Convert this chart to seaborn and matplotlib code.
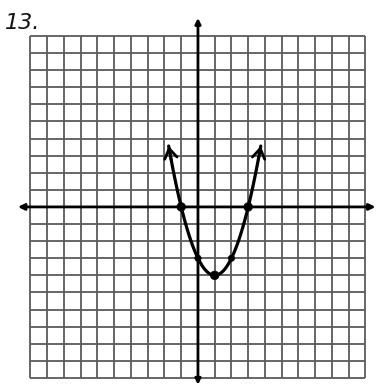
import numpy as np
import seaborn as sns
from matplotlib import pyplot as plt

# plotted points of the parabola (marked dots)
point_x = [-1, 0, 1, 2, 3]
point_y = [0, -3, -4, -3, 0]

# where the hand-drawn arrows end
arrow_x = [-1.75, 3.75]
arrow_y = [3.56, 3.56]

grid_ticks = list(range(-10, 11))
problem_label = "13."

sns.set_style("white")

fig = plt.figure(figsize=(3.77, 3.87), dpi=100)
ax = fig.add_axes([0, 0, 1, 1])
ax.set_xlim(-11.82, 10.69)
ax.set_ylim(-10.53, 12.1)
ax.axis("off")

# graph paper
ax.vlines(grid_ticks, -10, 10, color="#5a5a5a", lw=1.3, zorder=1)
ax.hlines(grid_ticks, -10, 10, color="#5a5a5a", lw=1.3, zorder=1)

# axes with arrow heads
ax.annotate("", xy=(-10.75, 0), xytext=(10.6, 0),
            arrowprops=dict(arrowstyle="<|-|>", color="black", lw=2.0,
                            mutation_scale=9, shrinkA=0, shrinkB=0), zorder=3)
ax.annotate("", xy=(0, 11.05), xytext=(0, -10.4),
            arrowprops=dict(arrowstyle="<|-|>", color="black", lw=2.0,
                            mutation_scale=8, shrinkA=0, shrinkB=0), zorder=3)

# parabola through the plotted points
curve_x = arrow_x[:1] + point_x + arrow_x[1:]
curve_y = arrow_y[:1] + point_y + arrow_y[1:]
sns.regplot(x=curve_x, y=curve_y, order=2, ci=None, scatter=False, truncate=True,
            line_kws=dict(color="black", lw=2.3, zorder=4), ax=ax)
sns.scatterplot(x=point_x, y=point_y, color="black", s=[40, 22, 40, 22, 40],
                edgecolor="black", zorder=5, ax=ax)

# open arrow heads at the curve ends
coef = np.polyfit(curve_x, curve_y, 2)
for ex, ey, step in [(arrow_x[0], arrow_y[0], 0.15), (arrow_x[1], arrow_y[1], -0.15)]:
    bx = ex + step
    ax.annotate("", xy=(ex, ey), xytext=(bx, np.polyval(coef, bx)),
                arrowprops=dict(arrowstyle="->, head_length=0.7, head_width=0.45",
                                color="black", lw=2.0, shrinkA=0, shrinkB=0),
                zorder=4)

fig.text(0.012, 0.925, problem_label, fontsize=16, color="#111111",
         fontstyle="italic", family="DejaVu Sans")

fig.savefig("out.png", dpi=100)
